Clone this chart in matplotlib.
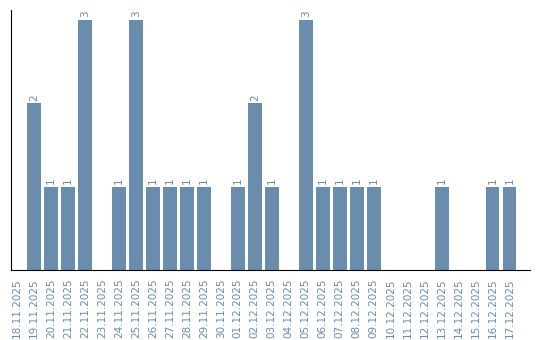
import matplotlib
matplotlib.use('Agg')
import matplotlib.pyplot as plt

dates = ['18.11.2025', '19.11.2025', '20.11.2025', '21.11.2025', '22.11.2025',
         '23.11.2025', '24.11.2025', '25.11.2025', '26.11.2025', '27.11.2025',
         '28.11.2025', '29.11.2025', '30.11.2025', '01.12.2025', '02.12.2025',
         '03.12.2025', '04.12.2025', '05.12.2025', '06.12.2025', '07.12.2025',
         '08.12.2025', '09.12.2025', '10.12.2025', '11.12.2025', '12.12.2025',
         '13.12.2025', '14.12.2025', '15.12.2025', '16.12.2025', '17.12.2025']
counts = [0, 2, 1, 1, 3, 0, 1, 3, 1, 1, 1, 1, 0, 1, 2,
          1, 0, 3, 1, 1, 1, 1, 0, 0, 0, 1, 0, 0, 1, 1]

color = '#6a8cad'

fig = plt.figure(figsize=(5.4, 3.4), dpi=100)
ax = fig.add_axes([0.0204, 0.206, 0.9606, 0.765])

x = range(len(dates))
ax.bar(x, counts, width=0.8, color=color)
for i, v in enumerate(counts):
    if v > 0:
        ax.text(i, v + 0.03, str(v), rotation=90, ha='center', va='bottom',
                fontsize=7.5, color=color)

ax.set_xlim(-0.35, 30.18)
ax.set_ylim(0, 3.12)
ax.set_xticks(list(x))
ax.set_xticklabels(dates, rotation=90, fontsize=7.5, color=color)
ax.tick_params(axis='x', length=0, pad=6)
ax.set_yticks([])
ax.spines['top'].set_visible(False)
ax.spines['right'].set_visible(False)

fig.savefig('out.png', dpi=100)
